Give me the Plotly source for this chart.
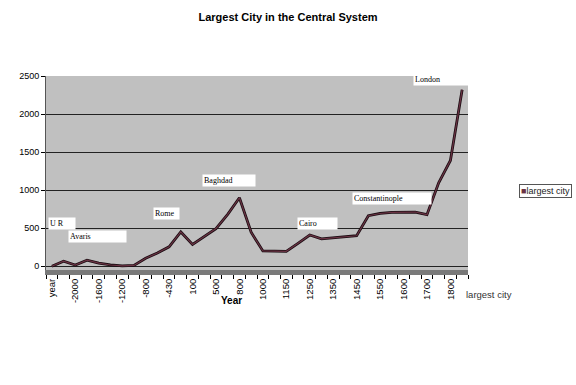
import plotly.graph_objects as go

# ---------------- data ----------------
tick_labels = ["year", "-2000", "-1600", "-1200", "-800", "-430", "100", "500", "800",
               "1000", "1150", "1250", "1350", "1450", "1550", "1600", "1700", "1800"]
# population (thousands) for each of the 36 categories (labels shown on every other one)
values = [0, 65, 15, 80, 40, 16, 5, 10, 105, 173, 255, 450, 286, 385, 494, 682,
          900, 446, 200, 198, 195, 300, 410, 360, 372, 388, 400, 664, 693, 708,
          711, 712, 677, 1097, 1389, 2320]
series_name = "largest city"
city_names = ["U R", "Avaris", "Rome", "Baghdad", "Cairo", "Constantinople", "London"]
city_index = [1, 3, 11, 16, 22, 29, 35]

x = list(range(len(values)))
tickvals = x[::2]

fig = go.Figure()
# ribbon-like line: dark edge + maroon core
fig.add_trace(go.Scatter(x=x, y=values, mode="lines", showlegend=False,
                         line=dict(color="#1a0d12", width=2.8), hoverinfo="skip"))
fig.add_trace(go.Scatter(x=x, y=values, mode="lines", showlegend=False, name=series_name,
                         line=dict(color="#6b3344", width=1.2)))

# city label boxes (white boxes, serif text)
box_style = {
    "U R":            dict(xshift=-16, yshift=31, width=24),
    "Avaris":         dict(xshift=-19, yshift=17, width=55),
    "Rome":           dict(xshift=-28, yshift=12, width=23),
    "Baghdad":        dict(xshift=-37, yshift=11, width=50),
    "Cairo":          dict(xshift=-13, yshift=5, width=37),
    "Constantinople": dict(xshift=-40, yshift=7, width=76),
    "London":         dict(xshift=-49, yshift=4, width=56),
}
for name, idx in zip(city_names, city_index):
    st = box_style[name]
    fig.add_annotation(x=x[idx], y=values[idx], text=name, showarrow=False,
                       xanchor="left", yanchor="bottom", align="left",
                       xshift=st["xshift"], yshift=st["yshift"], width=st["width"],
                       bgcolor="white", borderpad=1,
                       font=dict(family="Liberation Serif, Times New Roman, serif",
                                 size=8, color="black"))

# axis title / series-axis label
fig.add_annotation(text="<b>Year</b>", xref="paper", yref="paper", x=0.44, y=-0.155,
                   yanchor="middle", showarrow=False,
                   font=dict(family="Liberation Sans, Arial", size=10, color="black"))
fig.add_annotation(text=series_name, xref="paper", yref="paper", x=0.99, y=-0.125,
                   xanchor="left", yanchor="middle", showarrow=False,
                   font=dict(family="Liberation Sans, Arial", size=9.5, color="#333"))
# legend box (Excel-style square swatch)
fig.add_annotation(text="<span style='color:#6b3344'>■</span>" + series_name,
                   xref="paper", yref="paper", x=1.12, y=0.405,
                   xanchor="left", yanchor="middle", showarrow=False,
                   bgcolor="white", bordercolor="#555", borderwidth=1, borderpad=1,
                   font=dict(family="Liberation Sans, Arial", size=9, color="#222"))

fig.update_layout(
    width=576, height=385,
    margin=dict(l=46, r=108, t=76, b=115, autoexpand=False),
    paper_bgcolor="white", plot_bgcolor="#c0c0c0",
    title=dict(text="<b>Largest City in the Central System</b>", x=0.5, xanchor="center",
               y=0.956, yanchor="middle",
               font=dict(family="Liberation Sans, Arial", size=11, color="black")),
    font=dict(family="Liberation Sans, Arial", size=9, color="black"),
    showlegend=False,
)
fig.update_xaxes(range=[-0.5, len(values) - 0.5], tickmode="array", tickvals=tickvals,
                 ticktext=tick_labels, tickangle=-90, ticks="", showgrid=False,
                 showline=True, linecolor="#7a7a7a", linewidth=5, zeroline=False,
                 automargin=False,
                 tickfont=dict(size=9.5, color="black"),
                 minor=dict(ticks="outside", tickmode="linear", tick0=-0.5, dtick=1,
                            ticklen=4, tickcolor="black", showgrid=False))
fig.update_yaxes(range=[-50, 2500], tickmode="array", tickvals=[0, 500, 1000, 1500, 2000, 2500],
                 ticks="outside", ticklen=4, tickcolor="black", showline=True,
                 linecolor="#555", linewidth=1, showgrid=True, gridcolor="#222", gridwidth=1,
                 zeroline=False, automargin=False, tickfont=dict(size=9, color="black"))

fig.write_html("out.html", config={"displayModeBar": False},
               post_script="document.body.style.margin='0';")
